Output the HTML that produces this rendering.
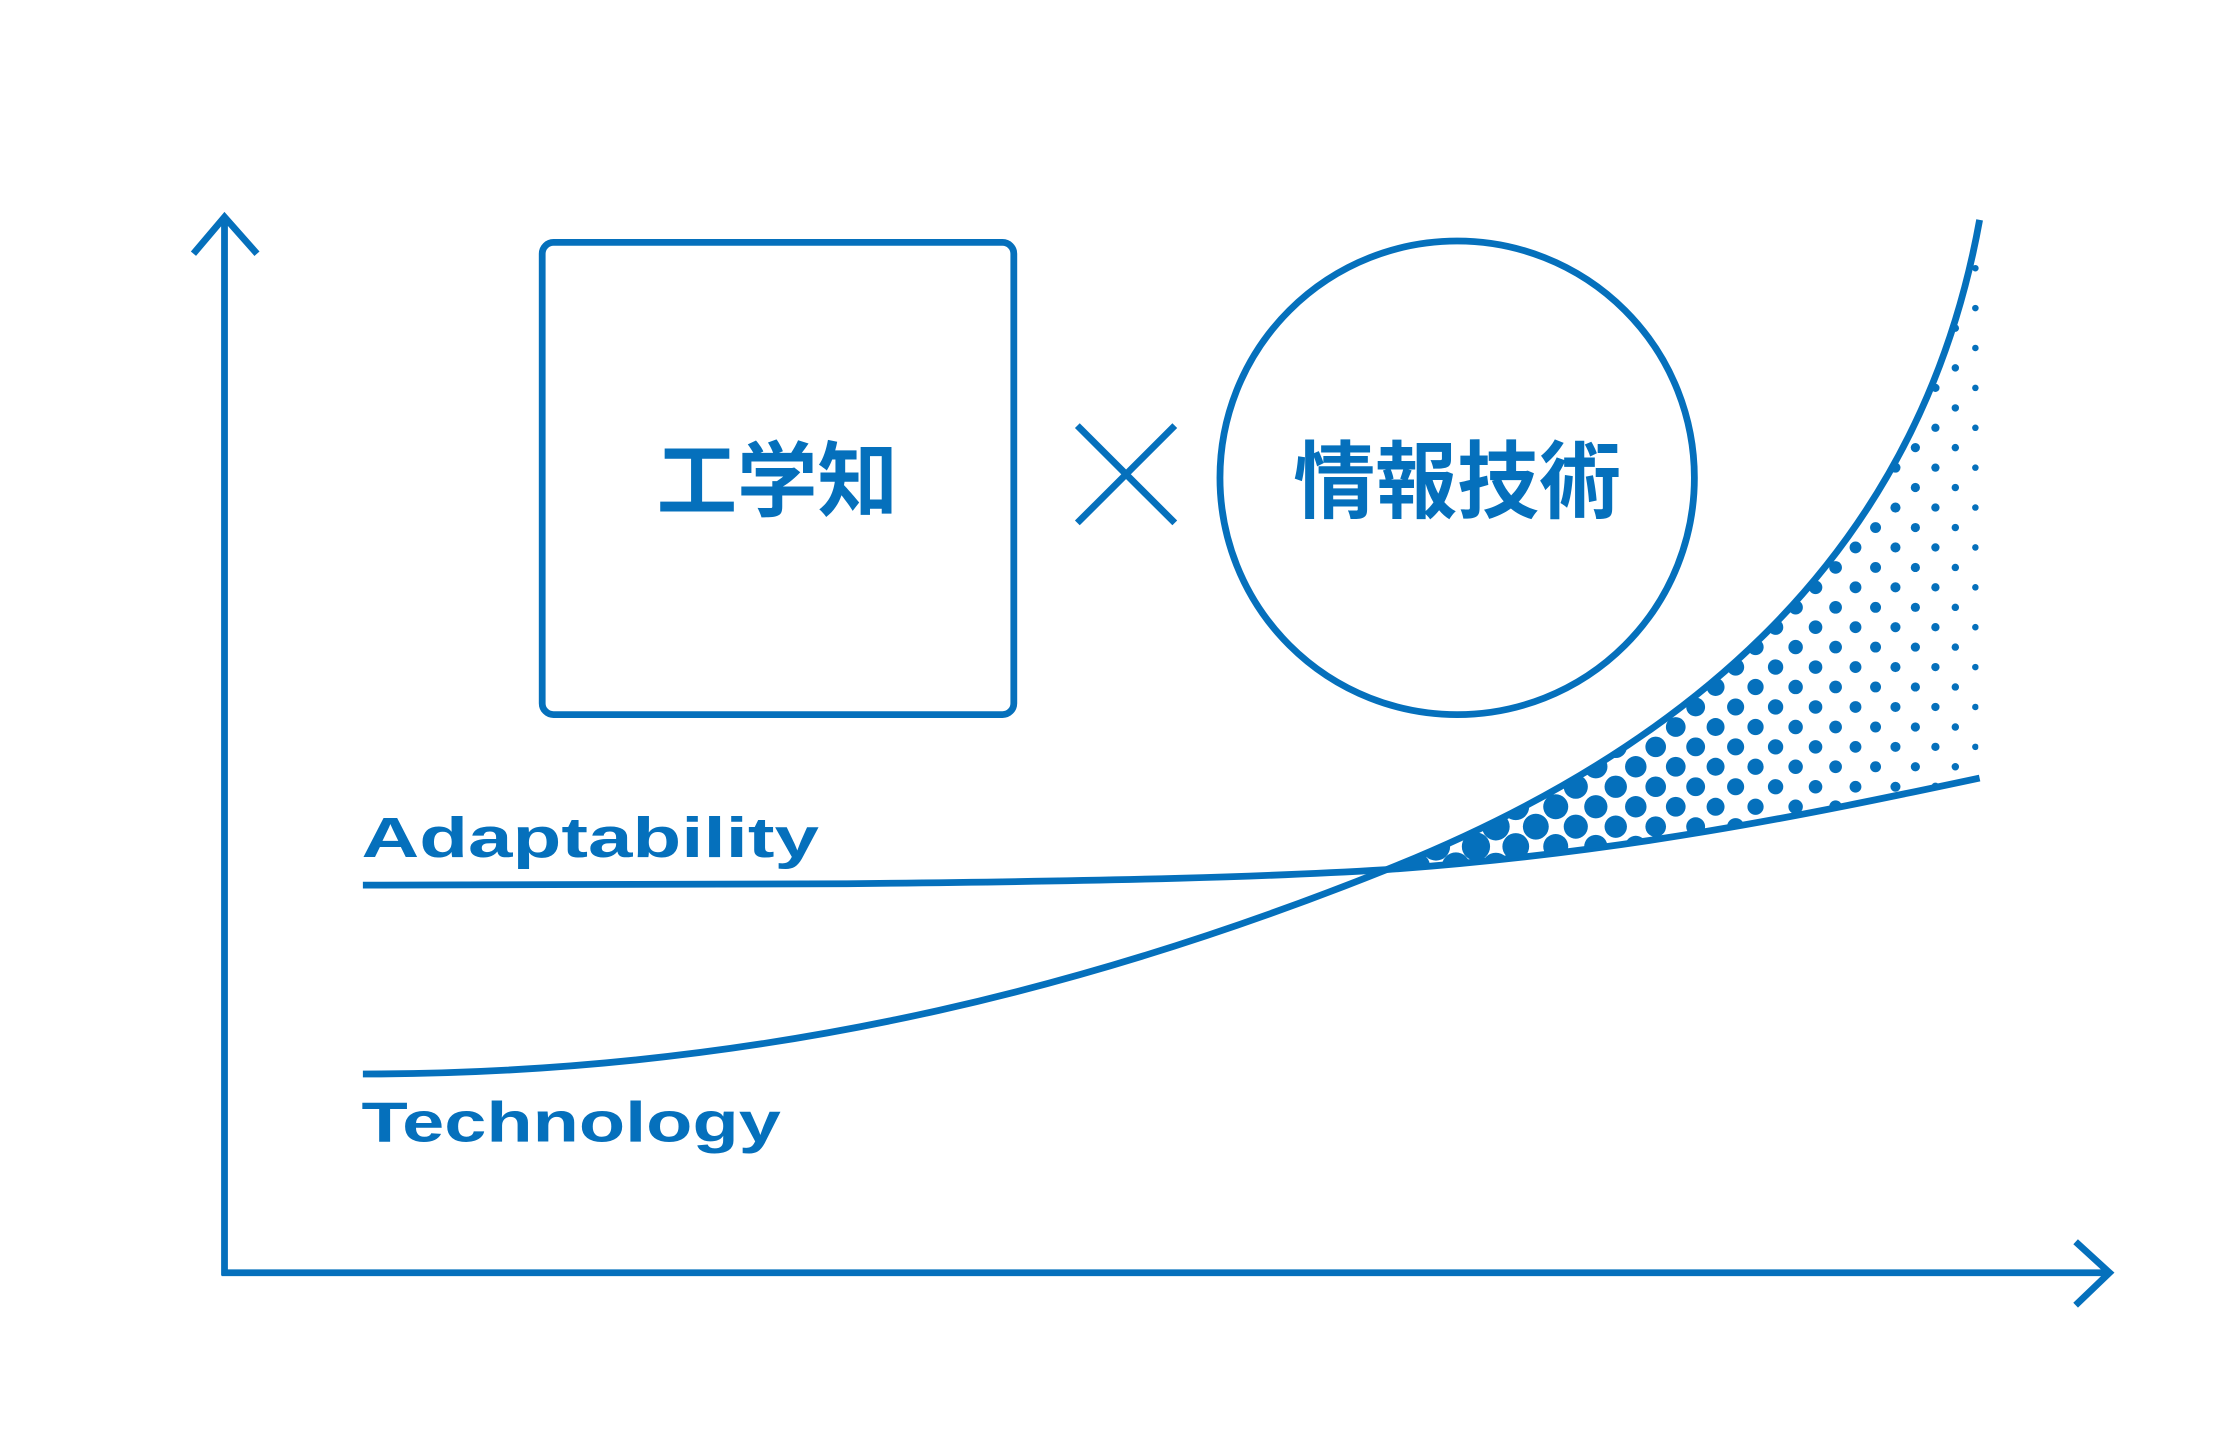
<!DOCTYPE html>
<html><head><meta charset="utf-8"><style>html,body{margin:0;padding:0;background:#fff}svg{display:block}</style></head>
<body>
<svg id="s" width="2214" height="1432" viewBox="0 0 1568 1016" preserveAspectRatio="none" xmlns="http://www.w3.org/2000/svg">
<defs>
<clipPath id="cp"><path d="M982,617 C1200,530 1360,390 1402,156 L1401,553 C1280,578 1150,605 982,617 Z"/></clipPath>
</defs>
<g fill="none" stroke="#0570BC" stroke-width="4.8">
<path d="M159,905 V154 M137,180 L159,154 L182,180"/>
<path d="M157,903 H1494 M1470,881 L1494,903 L1470,926"/>
<rect x="384" y="172" width="334" height="335" rx="8"/>
<path d="M763,302 L832,371 M832,302 L763,371"/>
<circle cx="1032" cy="339" r="168"/>
<path d="M257,628 L600,627 C800,625 900,622 982,617 C1150,605 1280,578 1402,552"/>
<path d="M257,762 C560,762 800,690 982,617 C1200,530 1360,390 1402,156"/>
</g>
<g id="dots" fill="#0570BC" clip-path="url(#cp)"></g>
<g fill="#0570BC" font-weight="bold">
<text x="465" y="342" dominant-baseline="central" font-size="58" textLength="171" lengthAdjust="spacingAndGlyphs" font-family="'Liberation Sans','Noto Sans CJK JP',sans-serif">工学知</text>
<text x="916" y="342" dominant-baseline="central" font-size="60" textLength="232" lengthAdjust="spacingAndGlyphs" font-family="'Liberation Sans','Noto Sans CJK JP',sans-serif">情報技術</text>
<text x="256" y="608" font-size="40" textLength="324" lengthAdjust="spacingAndGlyphs" font-family="'Liberation Sans',sans-serif">Adaptability</text>
<text x="256" y="810" font-size="40" textLength="297" lengthAdjust="spacingAndGlyphs" font-family="'Liberation Sans',sans-serif">Technology</text>
</g>
</svg>
<script>
(function(){
var g=document.getElementById('dots'),s=14.15,h='';
for(var i=0;i<40;i++){for(var j=-25;j<15;j++){if((i+j)%2)continue;
var x=1399-s*i,y=445+s*j;if(x<990)continue;
var r=10-(x-1050)*0.022;if(r>10)r=10;if(r<2)r=2;
h+='<circle cx="'+x.toFixed(1)+'" cy="'+y.toFixed(1)+'" r="'+r.toFixed(2)+'"/>';}}
g.innerHTML=h;
})();
</script>
</body></html>
